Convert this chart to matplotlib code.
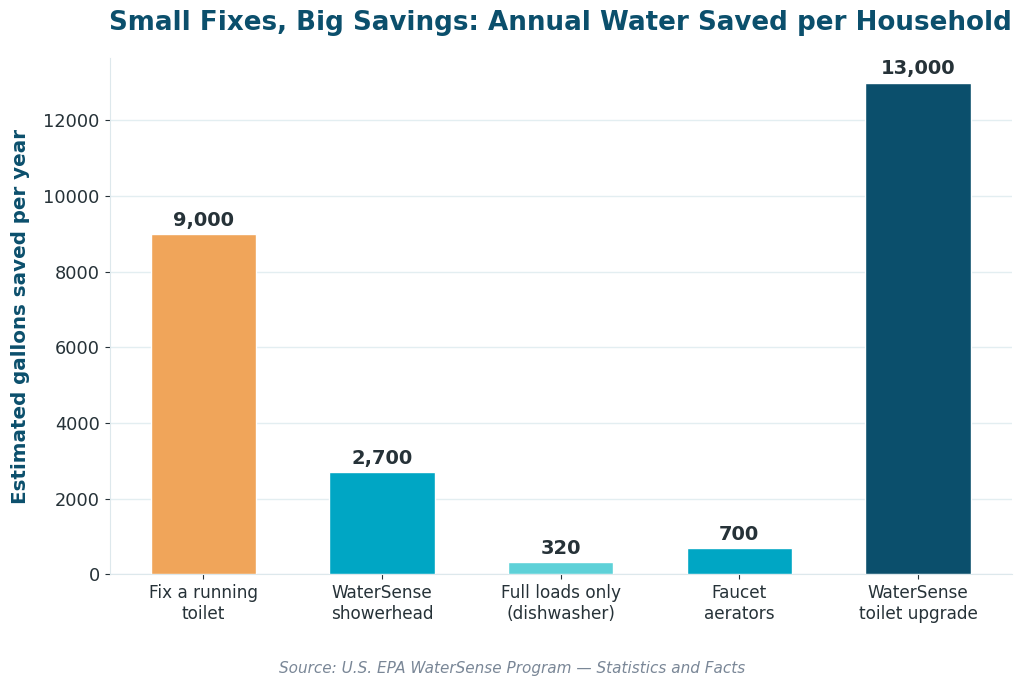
import matplotlib.pyplot as plt

categories = ["Fix a running\ntoilet", "WaterSense\nshowerhead", "Full loads only\n(dishwasher)",
              "Faucet\naerators", "WaterSense\ntoilet upgrade"]
gallons = [9000, 2700, 320, 700, 13000]
colors = ["#F0A55A", "#00A6C4", "#5ED1D8", "#00A6C4", "#0B4F6C"]

DARK = "#0B4F6C"
TEXT = "#263238"

fig, ax = plt.subplots(figsize=(10.24, 6.91), dpi=100)
fig.subplots_adjust(left=0.107, right=0.988, top=0.916, bottom=0.169)

x = list(range(len(categories)))
bars = ax.bar(x, gallons, width=0.59, color=colors, edgecolor="white", linewidth=1, zorder=3)

for b, v in zip(bars, gallons):
    ax.annotate(f"{v:,}", (b.get_x() + b.get_width() / 2, v), xytext=(0, 3),
                textcoords="offset points", ha="center", va="bottom",
                fontsize=14, fontweight="bold", color=TEXT)

ax.set_xticks(x)
ax.set_xticklabels(categories, fontsize=12.2, color=TEXT)
ax.tick_params(axis="y", labelsize=12.8, colors=TEXT)
ax.tick_params(axis="x", colors=TEXT)
ax.set_ylim(0, 13650)

ax.set_ylabel("Estimated gallons saved per year", fontsize=14.3, fontweight="bold",
              color=DARK, labelpad=10)
ax.set_title("Small Fixes, Big Savings: Annual Water Saved per Household",
             fontsize=18.8, fontweight="bold", color=DARK, pad=20)

ax.grid(axis="y", color="#E3EEF1", linewidth=1, zorder=0)
for s in ["top", "right"]:
    ax.spines[s].set_visible(False)
for s in ["left", "bottom"]:
    ax.spines[s].set_color("#DDE8EC")

fig.text(0.5, 0.026, "Source: U.S. EPA WaterSense Program \u2014 Statistics and Facts",
         ha="center", fontsize=11, style="italic", color="#7A8797")

plt.savefig("out.png")
